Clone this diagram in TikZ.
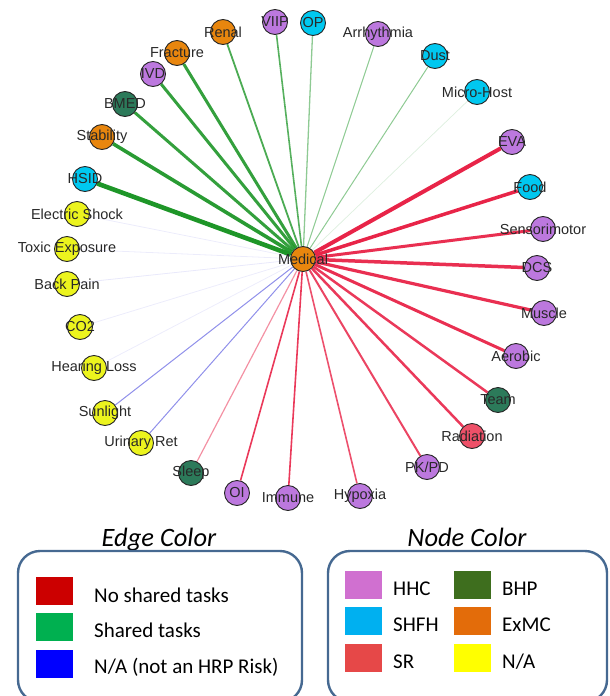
\documentclass[tikz,border=0pt]{standalone}
\usepackage{fontspec}
\setmainfont{Liberation Sans}
\newfontfamily\calibri{Carlito}
\usetikzlibrary{backgrounds}

\definecolor{ered}{RGB}{232,36,72}
\definecolor{egreen}{RGB}{30,150,40}
\definecolor{eblue}{RGB}{70,70,220}
\definecolor{nhhc}{RGB}{188,120,222}
\definecolor{nshfh}{RGB}{0,200,240}
\definecolor{nexmc}{RGB}{232,134,14}
\definecolor{nbhp}{RGB}{44,122,90}
\definecolor{nna}{RGB}{236,244,30}
\definecolor{nsr}{RGB}{238,80,104}
\definecolor{lred}{RGB}{204,0,0}
\definecolor{lgreen}{RGB}{0,176,80}
\definecolor{lblue}{RGB}{0,0,255}
\definecolor{lhhc}{RGB}{208,112,208}
\definecolor{lshfh}{RGB}{0,176,240}
\definecolor{lsr}{RGB}{230,72,72}
\definecolor{lbhp}{RGB}{62,110,30}
\definecolor{lexmc}{RGB}{227,108,10}
\definecolor{lna}{RGB}{255,255,0}
\definecolor{lborder}{RGB}{70,105,145}
\definecolor{lbltext}{RGB}{40,40,40}

\tikzset{
  risk/.style={circle, draw=black!85, line width=0.9pt, minimum size=25pt, inner sep=0pt, fill=#1},
  lbl/.style={font=\fontsize{14.5}{16}\selectfont, text=lbltext, inner sep=0pt},
  redge/.style={draw=ered, line width=#1},
  gedge/.style={draw=egreen, line width=#1},
  bedge/.style={draw=eblue, line width=#1},
  swatch/.style={minimum width=37pt, minimum height=28pt, inner sep=0pt, fill=#1},
  ltext/.style={font=\calibri\fontsize{21}{24}\selectfont, anchor=west, inner sep=0pt},
  ltitle/.style={font=\calibri\itshape\fontsize{26.5}{30}\selectfont, inner sep=0pt, anchor=base},
  lbox/.style={draw=lborder, line width=2.4pt, rounded corners=22pt}
}

\begin{document}
\begin{tikzpicture}[x=1pt, y=-1pt]
\clip (0,0) rectangle (610,696);

% nodes
\node[risk=nexmc, label={[lbl]center:Medical}] (med) at (303,259) {};
\node[risk=nexmc, label={[lbl]center:Renal}] (renal) at (223,32) {};
\node[risk=nhhc, label={[lbl]center:VIIP}] (viip) at (275,22) {};
\node[risk=nshfh, label={[lbl]center:OP}] (op) at (313,23) {};
\node[risk=nexmc, label={[lbl]center:Fracture}] (fracture) at (177,53) {};
\node[risk=nhhc, label={[lbl]center:IVD}] (ivd) at (153,74) {};
\node[risk=nbhp, label={[lbl]center:BMED}] (bmed) at (125,104) {};
\node[risk=nhhc, label={[lbl]center:Arrhythmia}] (arr) at (378,34) {};
\node[risk=nshfh, label={[lbl]center:Dust}] (dust) at (435,56) {};
\node[risk=nshfh, label={[lbl]center:Micro-Host}] (micro) at (477,92) {};
\node[risk=nexmc, label={[lbl]center:Stability}] (stab) at (102,137) {};
\node[risk=nshfh, label={[lbl]center:HSID}] (hsid) at (85,179) {};
\node[risk=nna, label={[lbl]center:Electric Shock}] (shock) at (77,214) {};
\node[risk=nna, label={[lbl]center:Toxic Exposure}] (toxic) at (67,249) {};
\node[risk=nna, label={[lbl]center:Back Pain}] (back) at (67,284) {};
\node[risk=nna, label={[lbl]center:CO2}] (co2) at (80,327) {};
\node[risk=nna, label={[lbl]center:Hearing Loss}] (hear) at (94,368) {};
\node[risk=nna, label={[lbl]center:Sunlight}] (sun) at (105,413) {};
\node[risk=nna, label={[lbl]center:Urinary Ret}] (urin) at (141,443) {};
\node[risk=nbhp, label={[lbl]center:Sleep}] (sleep) at (191,473) {};
\node[risk=nhhc, label={[lbl]center:OI}] (oi) at (237,493) {};
\node[risk=nhhc, label={[lbl]center:Immune}] (immune) at (288,498) {};
\node[risk=nhhc, label={[lbl]center:Hypoxia}] (hypoxia) at (360,496) {};
\node[risk=nhhc, label={[lbl]center:PK/PD}] (pkpd) at (427,467) {};
\node[risk=nsr, label={[lbl]center:Radiation}] (rad) at (472,436) {};
\node[risk=nbhp, label={[lbl]center:Team}] (team) at (498,400) {};
\node[risk=nhhc, label={[lbl]center:Aerobic}] (aero) at (516,356) {};
\node[risk=nhhc, label={[lbl]center:Muscle}] (muscle) at (544,313) {};
\node[risk=nhhc, label={[lbl]center:DCS}] (dcs) at (537,268) {};
\node[risk=nhhc, label={[lbl]center:Sensorimotor}] (sensor) at (543,229) {};
\node[risk=nshfh, label={[lbl]center:Food}] (food) at (530,187) {};
\node[risk=nhhc, label={[lbl]center:EVA}] (eva) at (512,142) {};

% edges
\begin{pgfonlayer}{background}
\draw[gedge=1.8pt, opacity=0.8] (med) -- (renal);
\draw[gedge=1.6pt, opacity=0.75] (med) -- (viip);
\draw[gedge=1.3pt, opacity=0.5] (med) -- (op);
\draw[gedge=3pt, opacity=0.9] (med) -- (fracture);
\draw[gedge=3pt, opacity=0.9] (med) -- (ivd);
\draw[gedge=3pt, opacity=0.9] (med) -- (bmed);
\draw[gedge=1pt, opacity=0.5] (med) -- (arr);
\draw[gedge=1pt, opacity=0.5] (med) -- (dust);
\draw[gedge=0.7pt, opacity=0.15] (med) -- (micro);
\draw[gedge=3.6pt, opacity=0.95] (med) -- (stab);
\draw[gedge=4.6pt, opacity=1] (med) -- (hsid);
\draw[bedge=0.8pt, opacity=0.1] (med) -- (shock);
\draw[bedge=0.8pt, opacity=0.1] (med) -- (toxic);
\draw[bedge=0.8pt, opacity=0.12] (med) -- (back);
\draw[bedge=0.8pt, opacity=0.1] (med) -- (co2);
\draw[bedge=0.8pt, opacity=0.1] (med) -- (hear);
\draw[bedge=1pt, opacity=0.6] (med) -- (sun);
\draw[bedge=1pt, opacity=0.6] (med) -- (urin);
\draw[redge=1.2pt, opacity=0.5] (med) -- (sleep);
\draw[redge=1.6pt, opacity=0.9] (med) -- (oi);
\draw[redge=1.6pt, opacity=0.9] (med) -- (immune);
\draw[redge=1.6pt, opacity=0.8] (med) -- (hypoxia);
\draw[redge=2pt, opacity=0.85] (med) -- (pkpd);
\draw[redge=2.5pt, opacity=0.9] (med) -- (rad);
\draw[redge=2.5pt, opacity=0.9] (med) -- (team);
\draw[redge=3pt, opacity=0.95] (med) -- (aero);
\draw[redge=3.2pt, opacity=0.95] (med) -- (muscle);
\draw[redge=3.5pt, opacity=0.95] (med) -- (dcs);
\draw[redge=3pt, opacity=0.95] (med) -- (sensor);
\draw[redge=3.5pt, opacity=1] (med) -- (food);
\draw[redge=4pt, opacity=1] (med) -- (eva);
\end{pgfonlayer}

% legend: edge color
\node[ltitle] (etitle) at (159,546) {Edge Color};
\draw[lbox] (18,551) rectangle (302,702);
\node[swatch=lred] (sw1) at (54.5,591) {};
\node[swatch=lgreen] (sw2) at (54.5,626.5) {};
\node[swatch=lblue] (sw3) at (54.5,663.5) {};
\node[ltext] (t1) at (94,595) {No shared tasks};
\node[ltext] (t2) at (94,630) {Shared tasks};
\node[ltext] (t3) at (94,667) {N/A (not an HRP Risk)};

% legend: node color
\node[ltitle] (ntitle) at (467,546) {Node Color};
\draw[lbox] (328,551) rectangle (607,702);
\node[swatch=lhhc] (s1) at (363.5,584.5) {};
\node[swatch=lshfh] (s2) at (363.5,620.5) {};
\node[swatch=lsr] (s3) at (363.5,657.5) {};
\node[swatch=lbhp] (s4) at (472.5,584.5) {};
\node[swatch=lexmc] (s5) at (472.5,620.5) {};
\node[swatch=lna] (s6) at (472.5,657.5) {};
\node[ltext] (u1) at (393,589) {HHC};
\node[ltext] (u2) at (393,625) {SHFH};
\node[ltext] (u3) at (393,662) {SR};
\node[ltext] (u4) at (502,589) {BHP};
\node[ltext] (u5) at (502,625) {ExMC};
\node[ltext] (u6) at (502,662) {N/A};
\end{tikzpicture}
\end{document}
